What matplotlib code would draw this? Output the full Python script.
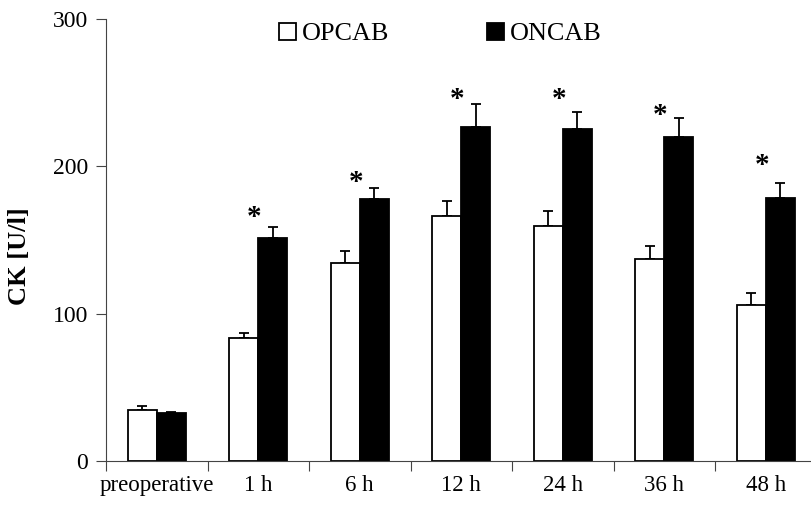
import numpy as np
import matplotlib.pyplot as plt

plt.rcParams['font.family'] = ['Liberation Serif', 'DejaVu Serif']

# data (CK in U/l, mean and upper error)
categories = ['preoperative', '1 h', '6 h', '12 h', '24 h', '36 h', '48 h']
opcab = [35.0, 83.4, 134.3, 166.6, 159.4, 137.4, 106.2]
opcab_err = [2.7, 3.8, 8.3, 10.0, 10.6, 8.8, 7.9]
oncab = [32.5, 151.7, 177.9, 227.0, 225.2, 220.0, 178.6]
oncab_err = [0.9, 7.2, 7.7, 15.2, 11.9, 12.7, 10.0]
# significance markers (category index, height)
sig_idx = [1, 2, 3, 4, 5, 6]
sig_y = [168.4, 192.0, 248.4, 248.4, 237.1, 203.2]

fig = plt.figure(figsize=(8.11, 5.09), dpi=100)
ax = fig.add_axes([106 / 811, 47.7 / 509, 710.5 / 811, 442.3 / 509])

x = np.arange(len(categories))
w = 0.285

ax.bar(x - w / 2, opcab, w, color='white', edgecolor='black', linewidth=1.3,
       label='OPCAB', zorder=2)
ax.bar(x + w / 2, oncab, w, color='black', edgecolor='black', linewidth=1.3,
       label='ONCAB', zorder=2)
ax.errorbar(x - w / 2, opcab, yerr=[np.zeros(len(opcab)), opcab_err], fmt='none',
            ecolor='black', elinewidth=1.3, capsize=3.5, capthick=1.3, zorder=1)
ax.errorbar(x + w / 2, oncab, yerr=[np.zeros(len(oncab)), oncab_err], fmt='none',
            ecolor='black', elinewidth=1.3, capsize=3.5, capthick=1.3, zorder=1)

for i, yv in zip(sig_idx, sig_y):
    ax.annotate('*', (x[i] - 0.04, yv), xytext=(0, -3), textcoords='offset points',
                ha='center', va='center', fontsize=21, fontweight='bold')

ax.set_xlim(-0.5, len(categories) - 0.5)
ax.set_ylim(0, 300)
ax.set_yticks([0, 100, 200, 300])
ax.set_xticks(x)
ax.set_xticklabels(categories)
ax.set_xticks(np.arange(-0.5, len(categories), 1), minor=True)
ax.tick_params(axis='x', which='major', length=0, pad=10, labelsize=16.5)
ax.tick_params(axis='x', which='minor', length=7, width=0.8, color='#444444')
ax.tick_params(axis='y', length=7, width=0.8, color='#444444', labelsize=17, pad=6)

for s in ['top', 'right']:
    ax.spines[s].set_visible(False)
for s in ['left', 'bottom']:
    ax.spines[s].set_linewidth(0.8)
    ax.spines[s].set_color('#444444')

ax.set_ylabel('CK [U/l]', fontsize=19, fontweight='bold', va='center')
ax.yaxis.set_label_coords(-0.1217, 0.463)

ax.legend(loc='upper center', bbox_to_anchor=(0.47, 1.045), ncol=2, frameon=False,
          fontsize=18.8, handlelength=0.65, handleheight=0.65, handletextpad=0.23,
          columnspacing=3.74)

fig.savefig('out.png', dpi=100)
